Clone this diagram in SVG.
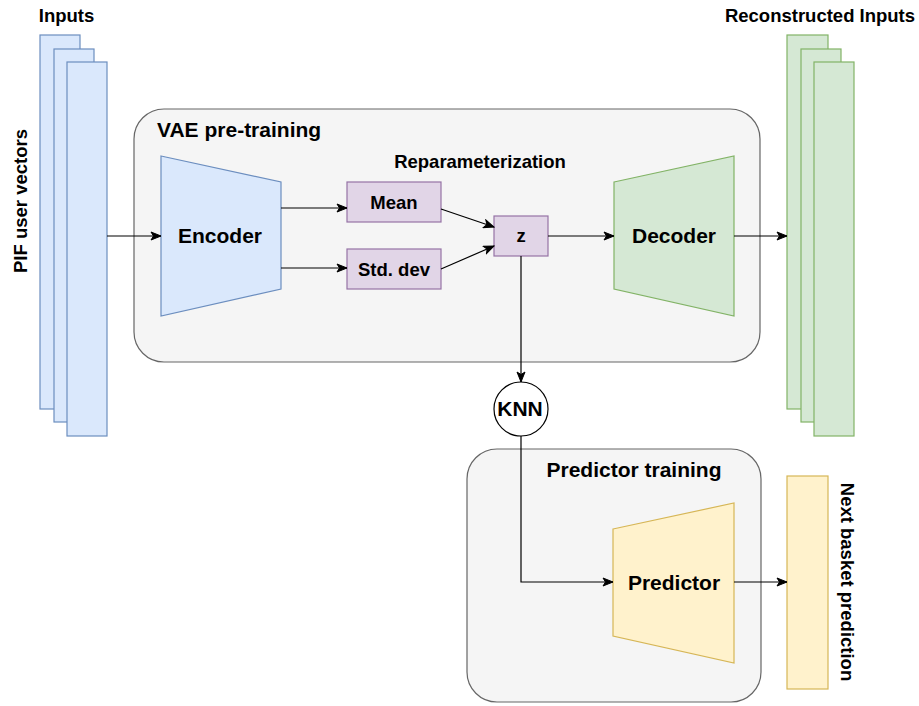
<svg xmlns="http://www.w3.org/2000/svg" width="919" height="706" viewBox="0 0 919 706">
<defs>
<style>
text{font-family:"Liberation Sans",Arial,Helvetica,sans-serif;font-weight:bold;fill:#000}
.s{font-size:18.5px}
.l{font-size:21px}
.grp{fill:#f5f5f5;stroke:#666666;stroke-width:1.2}
.blue{fill:#dae8fc;stroke:#6c8ebf;stroke-width:1.2}
.green{fill:#d5e8d4;stroke:#82b366;stroke-width:1.2}
.purple{fill:#e1d5e7;stroke:#9673a6;stroke-width:1.2}
.yellow{fill:#fff2cc;stroke:#d6b656;stroke-width:1.2}
.edge{fill:none;stroke:#000;stroke-width:1.2;marker-end:url(#arr)}
</style>
<marker id="arr" markerUnits="userSpaceOnUse" markerWidth="12" markerHeight="10" refX="11" refY="5" orient="auto">
<path d="M1,1 L11,5 L1,9 L3.5,5 Z" fill="#000" stroke="#000" stroke-width="1"/>
</marker>
</defs>
<rect width="919" height="706" fill="#ffffff"/>

<g id="vae-group">
<rect class="grp" x="134" y="109" width="626" height="253" rx="30" ry="30"/>
<text class="l" x="157" y="137">VAE pre-training</text>
</g>
<g id="predictor-group">
<rect class="grp" x="467" y="449" width="294" height="253" rx="30" ry="30"/>
<text class="l" x="634" y="477" text-anchor="middle">Predictor training</text>
</g>

<g id="inputs">
<rect class="blue" x="40" y="35" width="40" height="374"/>
<rect class="blue" x="54" y="49" width="40" height="373"/>
<rect class="blue" x="67" y="62" width="40" height="374"/>
<text class="s" x="66.5" y="22" text-anchor="middle">Inputs</text>
<text class="s" transform="translate(26.5,201) rotate(-90)" text-anchor="middle">PIF user vectors</text>
</g>

<g id="reconstructed">
<rect class="green" x="787" y="35" width="41" height="374"/>
<rect class="green" x="801" y="49" width="40" height="373"/>
<rect class="green" x="814" y="62" width="40" height="374"/>
<text class="s" x="820" y="22" text-anchor="middle">Reconstructed Inputs</text>
</g>

<g id="encoder">
<polygon class="blue" points="161,156 281,182 281,289 161,316"/>
<text class="l" x="220" y="243" text-anchor="middle">Encoder</text>
</g>

<g id="reparam-label">
<text class="s" x="480" y="168" text-anchor="middle">Reparameterization</text>
</g>

<g id="mean">
<rect class="purple" x="347" y="182" width="94" height="40"/>
<text class="s" x="394" y="208.5" text-anchor="middle">Mean</text>
</g>

<g id="stddev">
<rect class="purple" x="347" y="249" width="94" height="40"/>
<text class="s" x="394" y="275.5" text-anchor="middle">Std. dev</text>
</g>

<g id="z">
<rect class="purple" x="494" y="216" width="54" height="40"/>
<text class="s" x="521" y="241.5" text-anchor="middle">z</text>
</g>

<g id="decoder">
<polygon class="green" points="614,182 734,156 734,316 614,289"/>
<text class="l" x="674" y="243" text-anchor="middle">Decoder</text>
</g>

<g id="knn">
<circle cx="521" cy="409" r="27" fill="#ffffff" stroke="#000" stroke-width="1.2"/>
<text class="l" x="520" y="416" text-anchor="middle">KNN</text>
</g>

<g id="predictor">
<polygon class="yellow" points="613,529 734,503 734,663 613,636"/>
<text class="l" x="674" y="590" text-anchor="middle">Predictor</text>
</g>

<g id="next-basket">
<rect class="yellow" x="787" y="476" width="41" height="213"/>
<text class="s" transform="translate(841,582) rotate(90)" text-anchor="middle">Next basket prediction</text>
</g>

<g id="connectors">
<path class="edge" d="M107,236 H161"/>
<path class="edge" d="M281,208 H347"/>
<path class="edge" d="M281,268 H347"/>
<path class="edge" d="M441,209 L494,227"/>
<path class="edge" d="M441,269 L494,246"/>
<path class="edge" d="M548,236 H614"/>
<path class="edge" d="M734,236 H787"/>
<path class="edge" d="M521,256 V382"/>
<path class="edge" d="M521,436 V582 H613"/>
<path class="edge" d="M734,582 H787"/>
</g>
</svg>
